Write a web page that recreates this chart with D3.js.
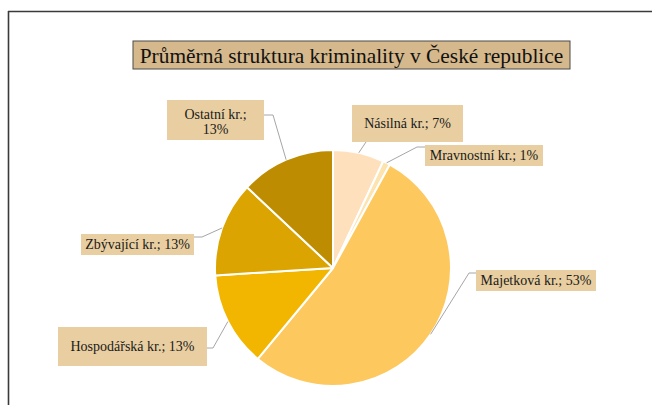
<!DOCTYPE html>
<html><head><meta charset="utf-8">
<script src="https://cdn.jsdelivr.net/npm/d3@7"></script>
<style>html,body{margin:0;padding:0;background:#fff;}svg{display:block;}</style>
</head><body>
<script>
const title = "Průměrná struktura kriminality v České republice";
const categories = ["Násilná kr.", "Mravnostní kr.", "Majetková kr.", "Hospodářská kr.", "Zbývající kr.", "Ostatní kr."];
const values = [7, 1, 53, 13, 13, 13];
const colors = ["#FEE0BC", "#FDE3AE", "#FDC95F", "#F2B600", "#DBA400", "#BE8C00"];
// label box layout: [x, y, w, h], line baselines, leader start points
const labelLayout = [
  {box:[352,105,111,37], lines:["Násilná kr.; 7%"], base:[128], lead:[[366,142]]},
  {box:[425,145,118,21], lines:["Mravnostní kr.; 1%"], base:[160], lead:[[425,147],[417,147]]},
  {box:[476,270,120,21], lines:["Majetková kr.; 53%"], base:[285], lead:[[476,273],[469,273]]},
  {box:[58,327,149,39], lines:["Hospodářská kr.; 13%"], base:[351], lead:[[207,348],[213,348]]},
  {box:[81,234,113,21], lines:["Zbývající kr.; 13%"], base:[249], lead:[[194,237],[202,237]]},
  {box:[167,100,97,40], lines:["Ostatní kr.;","13%"], base:[119,134], lead:[[264,115],[273,115]]}
];

const W = 652, H = 405;
const svg = d3.select("body").append("svg").attr("width", W).attr("height", H);

// outer frame
svg.append("line").attr("x1",8).attr("y1",11.5).attr("x2",W+2).attr("y2",11.5).attr("stroke","#3a3a3a").attr("stroke-width",1.6);
svg.append("line").attr("x1",8.5).attr("y1",11).attr("x2",8.5).attr("y2",H+2).attr("stroke","#3a3a3a").attr("stroke-width",1.6);

// title
svg.append("rect").attr("x",133).attr("y",41).attr("width",437).attr("height",28)
  .attr("fill","#D5B88C").attr("stroke","#4a4a4a").attr("stroke-width",1);
svg.append("text").attr("x",351.5).attr("y",62.5).attr("text-anchor","middle")
  .attr("font-family","'Liberation Serif', 'Times New Roman', serif").attr("font-size",21.4).attr("fill","#111")
  .text(title);

const cx = 333, cy = 268, r = 118;
const g = svg.append("g").attr("transform",`translate(${cx},${cy})`);
const pie = d3.pie().sort(null).value(d => d)(values);
const arc = d3.arc().innerRadius(0).outerRadius(r);
const edge = d3.arc().innerRadius(r).outerRadius(r);

g.selectAll("path.slice").data(pie).enter().append("path")
  .attr("d", arc).attr("fill",(d,i)=>colors[i]).attr("stroke","#fff").attr("stroke-width",2).attr("stroke-linejoin","round");

// leader lines
pie.forEach((d,i)=>{
  const c = edge.centroid(d);
  const pts = labelLayout[i].lead.concat([[cx+c[0], cy+c[1]]]);
  svg.append("polyline").attr("points", pts.map(p=>p.join(",")).join(" "))
    .attr("fill","none").attr("stroke","#A6A6A6").attr("stroke-width",1);
});

// label boxes
labelLayout.forEach((L,i)=>{
  const [x,y,w,h] = L.box;
  svg.append("rect").attr("x",x).attr("y",y).attr("width",w).attr("height",h).attr("fill","#E8CEA0");
  L.lines.forEach((t,k)=>{
    svg.append("text").attr("x",x+w/2).attr("y",L.base[k]).attr("text-anchor","middle")
      .attr("font-family","'Liberation Serif', 'Times New Roman', serif").attr("font-size",14).attr("fill","#1a1a1a")
      .text(t);
  });
});
</script>
</body></html>
